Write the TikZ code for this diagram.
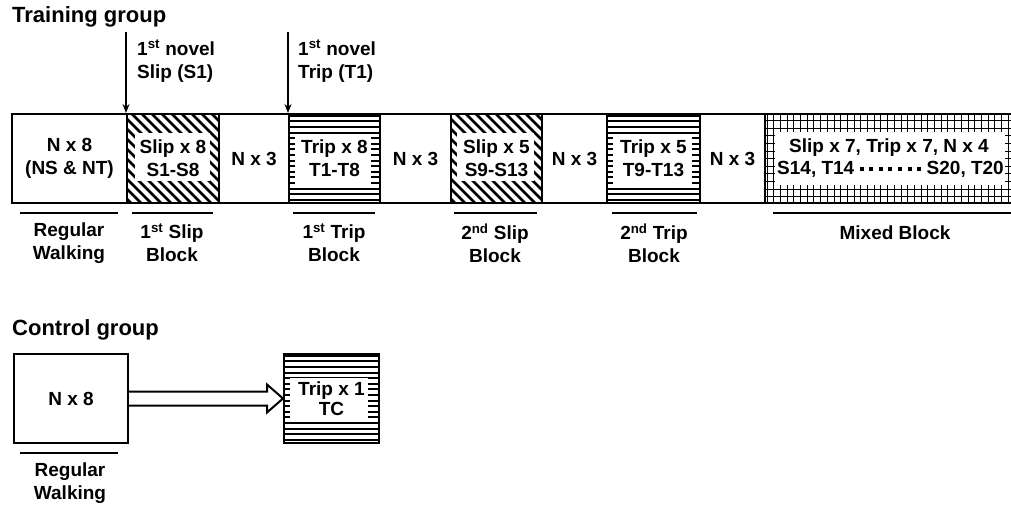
\documentclass[tikz,border=0pt]{standalone}
\usepackage{fontspec}
\setmainfont{Liberation Sans}
\usetikzlibrary{arrows.meta,calc}
\pgfdeclarelayer{bg}
\pgfsetlayers{bg,main}
\newcommand{\txt}{\fontsize{19}{23}\selectfont\bfseries}
\newcommand{\hatchS}[4]{%
  \begin{scope}
    \clip (#1,#2) rectangle (#3,#4);
    \foreach \k in {0,...,22} {\draw[hatchline] ({#1-95+\k*10},#2) -- ++(95,95);}
  \end{scope}}
\newcommand{\hatchT}[4]{%
  \begin{scope}
    \clip (#1,#2) rectangle (#3,#4);
    \foreach \k in {0,...,17} {\draw[stripeline] (#1,{#2+2.8+\k*5.6}) -- (#3,{#2+2.8+\k*5.6});}
  \end{scope}}
\newcommand{\hatchG}[4]{%
  \begin{scope}
    \clip (#1,#2) rectangle (#3,#4);
    \foreach \k in {0,...,40} {\draw[gridline] ({#1+3+\k*6.7},#2) -- ({#1+3+\k*6.7},#4);}
    \foreach \k in {0,...,12} {\draw[gridline] (#1,{#2+\k*7.6}) -- (#3,{#2+\k*7.6});}
  \end{scope}}
\begin{document}
\begin{tikzpicture}[x=1pt,y=-1pt,
  seg/.style={draw, line width=2pt, minimum height=89pt, inner sep=0pt, anchor=north west, align=center, font=\txt},
  lbl/.style={align=center, font=\txt},
  hatchline/.style={line width=2.7pt},
  stripeline/.style={line width=2.1pt},
  gridline/.style={line width=1pt},
  uline/.style={line width=2pt},
  inner/.style={fill=white, draw=none},
  novel/.style={line width=1.5pt, -{Stealth[length=9pt,width=7pt]}},
  blockarrow/.style={draw, line width=2pt, line join=miter, fill=white}]
\useasboundingbox (0,0) rectangle (1011,506);
\clip (0,0) rectangle (1011,506);

% titles
\node[anchor=west, font=\fontsize{22}{26}\selectfont\bfseries, inner sep=0pt] (tg) at (12,17) {Training group};
\node[anchor=west, font=\fontsize{22}{26}\selectfont\bfseries, inner sep=0pt] (cg) at (12,330) {Control group};

% training bar
\node[seg, minimum width=115pt] (nw) at (11,113) {N x 8\\(NS \& NT)};
\node[seg, minimum width=92pt] (s1) at (126,113) {Slip x 8\\S1-S8};
\node[seg, minimum width=70pt] (n3a) at (218,113) {N x 3};
\node[seg, minimum width=91pt] (t1) at (288,113) {Trip x 8\\T1-T8};
\node[seg, minimum width=71pt] (n3b) at (379,113) {N x 3};
\node[seg, minimum width=91pt] (s2) at (450,113) {Slip x 5\\S9-S13};
\node[seg, minimum width=65pt] (n3c) at (541,113) {N x 3};
\node[seg, minimum width=93pt] (t2) at (606,113) {Trip x 5\\T9-T13};
\node[seg, minimum width=65pt] (n3d) at (699,113) {N x 3};
\node[seg, minimum width=260pt] (mx) at (764,113) {};
\node[lbl, anchor=center] (mxt1) at (889,148) {Slip x 7, Trip x 7, N x 4};
\node[lbl, anchor=west, inner sep=0pt] (mxa) at (777,169) {S14, T14};
\node[lbl, anchor=east, inner sep=0pt] (mxb) at (1004,169) {S20, T20};
\draw[line width=4pt, dash pattern=on 4pt off 5.6pt] ($(mxa.east)+(5,0)$) -- ($(mxb.west)+(-3,0)$);

\begin{pgfonlayer}{bg}
  \fill[white] (0,0) rectangle (1011,506);
  \hatchS{126}{113}{218}{202}
  \fill[inner] (135,133) rectangle (210,181);
  \hatchT{288}{113}{379}{202}
  \fill[inner] (295,136) rectangle (371,184);
  \hatchS{450}{113}{541}{202}
  \fill[inner] (457,133) rectangle (534,181);
  \hatchT{606}{113}{699}{202}
  \fill[inner] (613,136) rectangle (692,184);
  \hatchG{764}{113}{1020}{202}
  \fill[inner] (775,132) rectangle (1005,185);
  \hatchT{283}{353}{378}{442}
  \fill[inner] (290,378) rectangle (368,422);
\end{pgfonlayer}

% novel arrows
\coordinate (a1) at (126,32);
\coordinate (a2) at (288,32);
\draw[novel] (a1) -- (s1.north west);
\draw[novel] (a2) -- (t1.north west);
\node[anchor=west, align=left, font=\txt, inner sep=0pt] (nov1) at (137,61) {1\textsuperscript{st} novel\\Slip (S1)};
\node[anchor=west, align=left, font=\txt, inner sep=0pt] (nov2) at (298,61) {1\textsuperscript{st} novel\\Trip (T1)};

% underlines and block labels
\draw[uline] (20,213) -- (118,213);
\draw[uline] (132,213) -- (213,213);
\draw[uline] (293,213) -- (375,213);
\draw[uline] (454,213) -- (537,213);
\draw[uline] (612,213) -- (697,213);
\draw[uline] (773,213) -- (1011,213);
\node[lbl] (l1) at (69,243) {Regular\\Walking};
\node[lbl] (l2) at (172,243) {1\textsuperscript{st} Slip\\Block};
\node[lbl] (l3) at (334,243) {1\textsuperscript{st} Trip\\Block};
\node[lbl] (l4) at (495,243) {2\textsuperscript{nd} Slip\\Block};
\node[lbl] (l5) at (654,243) {2\textsuperscript{nd} Trip\\Block};
\node[lbl] (l6) at (895,233) {Mixed Block};

% control group
\node[seg, minimum width=114pt] (cN) at (13,353) {N x 8};
\node[seg, minimum width=95pt, font=\fontsize{19}{20}\selectfont\bfseries] (cT) at (283,353) {Trip x 1\\TC};
\draw[blockarrow] ($(cN.east)+(0,-7)$) -- ($(cT.west)+(-16,-7)$) -- ($(cT.west)+(-16,-14)$) -- (cT.west) -- ($(cT.west)+(-16,14)$) -- ($(cT.west)+(-16,7)$) -- ($(cN.east)+(0,7)$);
\draw[uline] (20,453) -- (118,453);
\node[lbl] (l7) at (70,483) {Regular\\Walking};
\end{tikzpicture}
\end{document}
